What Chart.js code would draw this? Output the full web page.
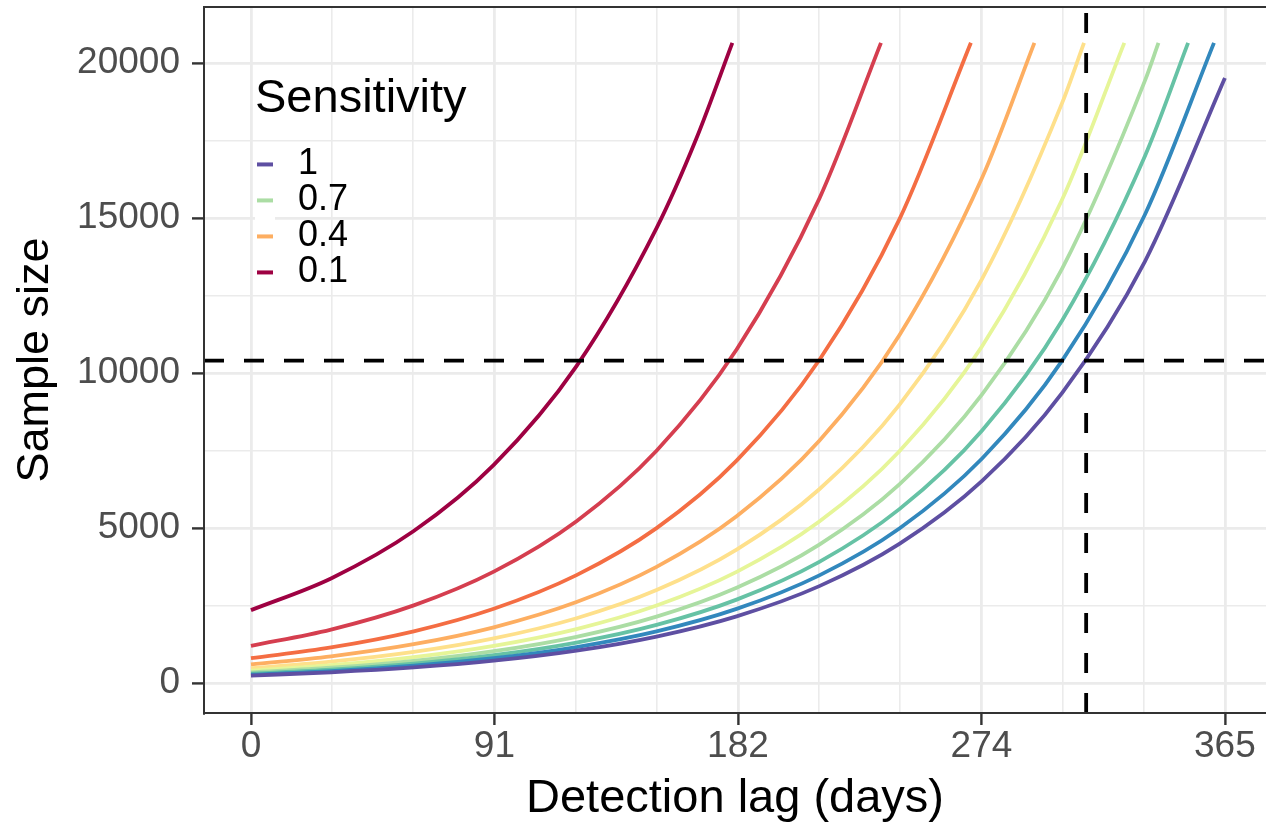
<!DOCTYPE html>
<html>
<head>
<meta charset="utf-8">
<script src="https://cdn.jsdelivr.net/npm/chart.js@4.4.1/dist/chart.umd.min.js"></script>
<style>
  html, body { margin: 0; padding: 0; background: #ffffff; }
  #wrap { width: 1266px; height: 830px; position: relative; }
</style>
</head>
<body>
<div id="wrap"><canvas id="c" width="1266" height="830"></canvas></div>
<script>
// ---------- data ----------
const sensitivityLabels = ['1', '0.9', '0.8', '0.7', '0.6', '0.5', '0.4', '0.3', '0.2', '0.1'];
const legendBreaks = ['1', '0.7', '0.4', '0.1'];
const lagDays = [0, 30, 61, 91, 122, 152, 182, 213, 243, 274, 304, 335, 365];

const size_s100 = [240, 345, 501, 719, 1044, 1499, 2151, 3125, 4487, 6518, 9357, 13594, 19514];
const size_s090 = [267, 383, 556, 798, 1160, 1665, 2390, 3473, 4985, 7243, 10397, 15106];
const size_s080 = [300, 431, 626, 898, 1305, 1873, 2689, 3907, 5608, 8148, 11696, 16993];
const size_s070 = [343, 492, 715, 1027, 1491, 2141, 3073, 4465, 6410, 9313, 13368, 19423];
const size_s060 = [400, 574, 834, 1198, 1740, 2498, 3585, 5209, 7478, 10864, 15594];
const size_s050 = [480, 689, 1001, 1437, 2088, 2997, 4302, 6251, 8973, 13037, 18713];
const size_s040 = [600, 861, 1251, 1796, 2610, 3746, 5378, 7813, 11216, 16296];
const size_s030 = [800, 1148, 1668, 2395, 3480, 4995, 7171, 10418, 14955];
const size_s020 = [1200, 1723, 2503, 3593, 5220, 7493, 10756, 15626];
const size_s010 = [2350, 3373, 4901, 7035, 10222, 14673];

// extra reading between the last regular lag and the curve end (0.1 curve)
const midLagDay = [null, null, null, null, null, null, null, null, null, 167];
const midSize   = [null, null, null, null, null, null, null, null, null, 17580];

// last (truncated) point of each curve
const lastLagDay = [null, 360.9, 351.2, 340.1, 327.3, 312.2, 293.6, 269.8, 236.1, 180.4];
const lastSize   = [null, 20650, 20650, 20650, 20650, 20650, 20650, 20650, 20650, 20650];

// reference dashed lines
const thresholdSize = [10400];
const thresholdLag = [313];

// ticks
const xTickValues = [0, 30.42, 60.83, 91.25, 121.67, 152.08, 182.5, 212.92, 243.33, 273.75, 304.17, 334.58, 365];
const xTickLabels = ['0', '', '', '91', '', '', '182', '', '', '274', '', '', '365'];
const yTickValues = [0, 2500, 5000, 7500, 10000, 12500, 15000, 17500, 20000];
const yTickLabels = ['0', '', '5000', '', '10000', '', '15000', '', '20000'];

// ---------- styling ----------
const lineColors = ['#5E4FA2', '#3288BD', '#66C2A5', '#ABDDA4', '#E6F598',
                    '#FEE08B', '#FDAE61', '#F46D43', '#D53E4F', '#9E0142'];
const seriesValues = [size_s100, size_s090, size_s080, size_s070, size_s060,
                      size_s050, size_s040, size_s030, size_s020, size_s010];

const X_MIN = -17.6, X_MAX = 380.4;
const Y_MIN = -968, Y_MAX = 21806;
const FONT = "'Liberation Sans', Arial, Helvetica, sans-serif";
const GRID = '#EBEBEB';
const DARK = '#333333';

Chart.defaults.font.family = FONT;

function seriesPoints(i) {
  const pts = seriesValues[i].map((v, k) => ({ x: lagDays[k], y: v }));
  if (midLagDay[i] !== null) pts.push({ x: midLagDay[i], y: midSize[i] });
  if (lastLagDay[i] !== null) pts.push({ x: lastLagDay[i], y: lastSize[i] });
  return pts;
}

const datasets = sensitivityLabels.map((lab, i) => ({
  label: lab,
  data: seriesPoints(i),
  borderColor: lineColors[i],
  backgroundColor: lineColors[i],
  borderWidth: 3.8,
  pointRadius: 0,
  fill: false,
  cubicInterpolationMode: 'monotone'
}));

datasets.push({
  label: 'hline',
  data: [{ x: X_MIN, y: thresholdSize[0] }, { x: X_MAX, y: thresholdSize[0] }],
  borderColor: '#000000', borderWidth: 3.8, borderDash: [20, 20],
  pointRadius: 0, fill: false, order: -1
});
datasets.push({
  label: 'vline',
  data: [{ x: thresholdLag[0], y: Y_MIN }, { x: thresholdLag[0], y: Y_MAX }],
  borderColor: '#000000', borderWidth: 3.8, borderDash: [20, 20],
  pointRadius: 0, fill: false, order: -1
});

function keyImage(color) {
  const c = document.createElement('canvas');
  c.width = 25; c.height = 36;
  const g = c.getContext('2d');
  g.fillStyle = '#FFFFFF';
  g.fillRect(0, 0, 20, 36);
  g.fillStyle = color;
  g.fillRect(2, 16, 16, 4);
  return c;
}
const keyImages = legendBreaks.map(b => keyImage(lineColors[sensitivityLabels.indexOf(b)]));

const placeLegend = {
  id: 'placeLegend',
  afterLayout(chart) {
    const lg = chart.legend, ca = chart.chartArea;
    if (!lg) return;
    lg.left = 255; lg.top = ca.top; lg.right = ca.right; lg.bottom = ca.bottom;
    lg.width = lg.right - lg.left; lg.height = lg.bottom - lg.top;
  }
};

new Chart(document.getElementById('c'), {
  type: 'line',
  data: { datasets },
  plugins: [placeLegend],
  options: {
    responsive: false,
    animation: false,
    devicePixelRatio: 1,
    events: [],
    layout: { padding: 0 },
    plugins: {
      tooltip: { enabled: false },
      legend: {
        display: true,
        position: 'chartArea',
        align: 'start',
        title: {
          display: true, text: 'Sensitivity', color: '#000000', position: 'start',
          font: { size: 47, family: FONT },
          padding: { top: 69, bottom: 14 }
        },
        labels: {
          font: { size: 36, family: FONT },
          color: '#000000',
          padding: 0,
          usePointStyle: true,
          pointStyleWidth: 25,
          generateLabels() {
            return legendBreaks.map((b, k) => {
              const i = sensitivityLabels.indexOf(b);
              return {
                text: b, fillStyle: lineColors[i], strokeStyle: lineColors[i],
                lineWidth: 0, pointStyle: keyImages[k], hidden: false,
                datasetIndex: i, fontColor: '#000000'
              };
            });
          }
        }
      }
    },
    scales: {
      x: {
        type: 'linear', position: 'bottom', min: X_MIN, max: X_MAX,
        afterBuildTicks(scale) { scale.ticks = xTickValues.map(v => ({ value: v })); },
        afterFit(scale) { scale.height = 117; scale.paddingLeft = 0; scale.paddingRight = 0; },
        ticks: {
          autoSkip: false, maxRotation: 0, minRotation: 0,
          padding: 0, color: '#4D4D4D',
          font: { size: 37, family: FONT },
          callback: (v, i) => xTickLabels[i]
        },
        grid: {
          color: GRID,
          lineWidth: ctx => (xTickLabels[ctx.index] !== '' ? 2.8 : 1.6),
          drawTicks: true, tickLength: 12,
          tickColor: ctx => (xTickLabels[ctx.index] !== '' ? DARK : 'rgba(0,0,0,0)'),
          tickWidth: ctx => (xTickLabels[ctx.index] !== '' ? 2.4 : 0)
        },
        border: { display: true, color: DARK, width: 2, z: 1 },
        title: {
          display: true, text: 'Detection lag (days)', color: '#000000',
          font: { size: 47, family: FONT }, padding: { top: 0, bottom: 3 }
        }
      },
      xTop: {
        type: 'linear', position: 'top', min: X_MIN, max: X_MAX,
        afterBuildTicks(scale) { scale.ticks = []; },
        afterFit(scale) { scale.height = 7; scale.paddingLeft = 0; scale.paddingRight = 0; },
        ticks: { display: false },
        grid: { display: false, drawTicks: false },
        border: { display: true, color: DARK, width: 2, z: 1 }
      },
      y: {
        type: 'linear', position: 'left', min: Y_MIN, max: Y_MAX,
        afterBuildTicks(scale) { scale.ticks = yTickValues.map(v => ({ value: v })); },
        afterFit(scale) { scale.width = 204; scale.paddingTop = 0; scale.paddingBottom = 0; },
        ticks: {
          autoSkip: false, padding: 12, color: '#4D4D4D',
          font: { size: 37, family: FONT },
          callback: (v, i) => yTickLabels[i]
        },
        grid: {
          color: GRID,
          lineWidth: ctx => (yTickLabels[ctx.index] !== '' ? 2.8 : 1.6),
          drawTicks: true, tickLength: 12,
          tickColor: ctx => (yTickLabels[ctx.index] !== '' ? DARK : 'rgba(0,0,0,0)'),
          tickWidth: ctx => (yTickLabels[ctx.index] !== '' ? 2.4 : 0)
        },
        border: { display: true, color: DARK, width: 2, z: 1 },
        title: {
          display: true, text: 'Sample size', color: '#000000',
          font: { size: 45, family: FONT }, padding: { top: 9, bottom: 0 }
        }
      }
    }
  }
});
</script>
</body>
</html>
